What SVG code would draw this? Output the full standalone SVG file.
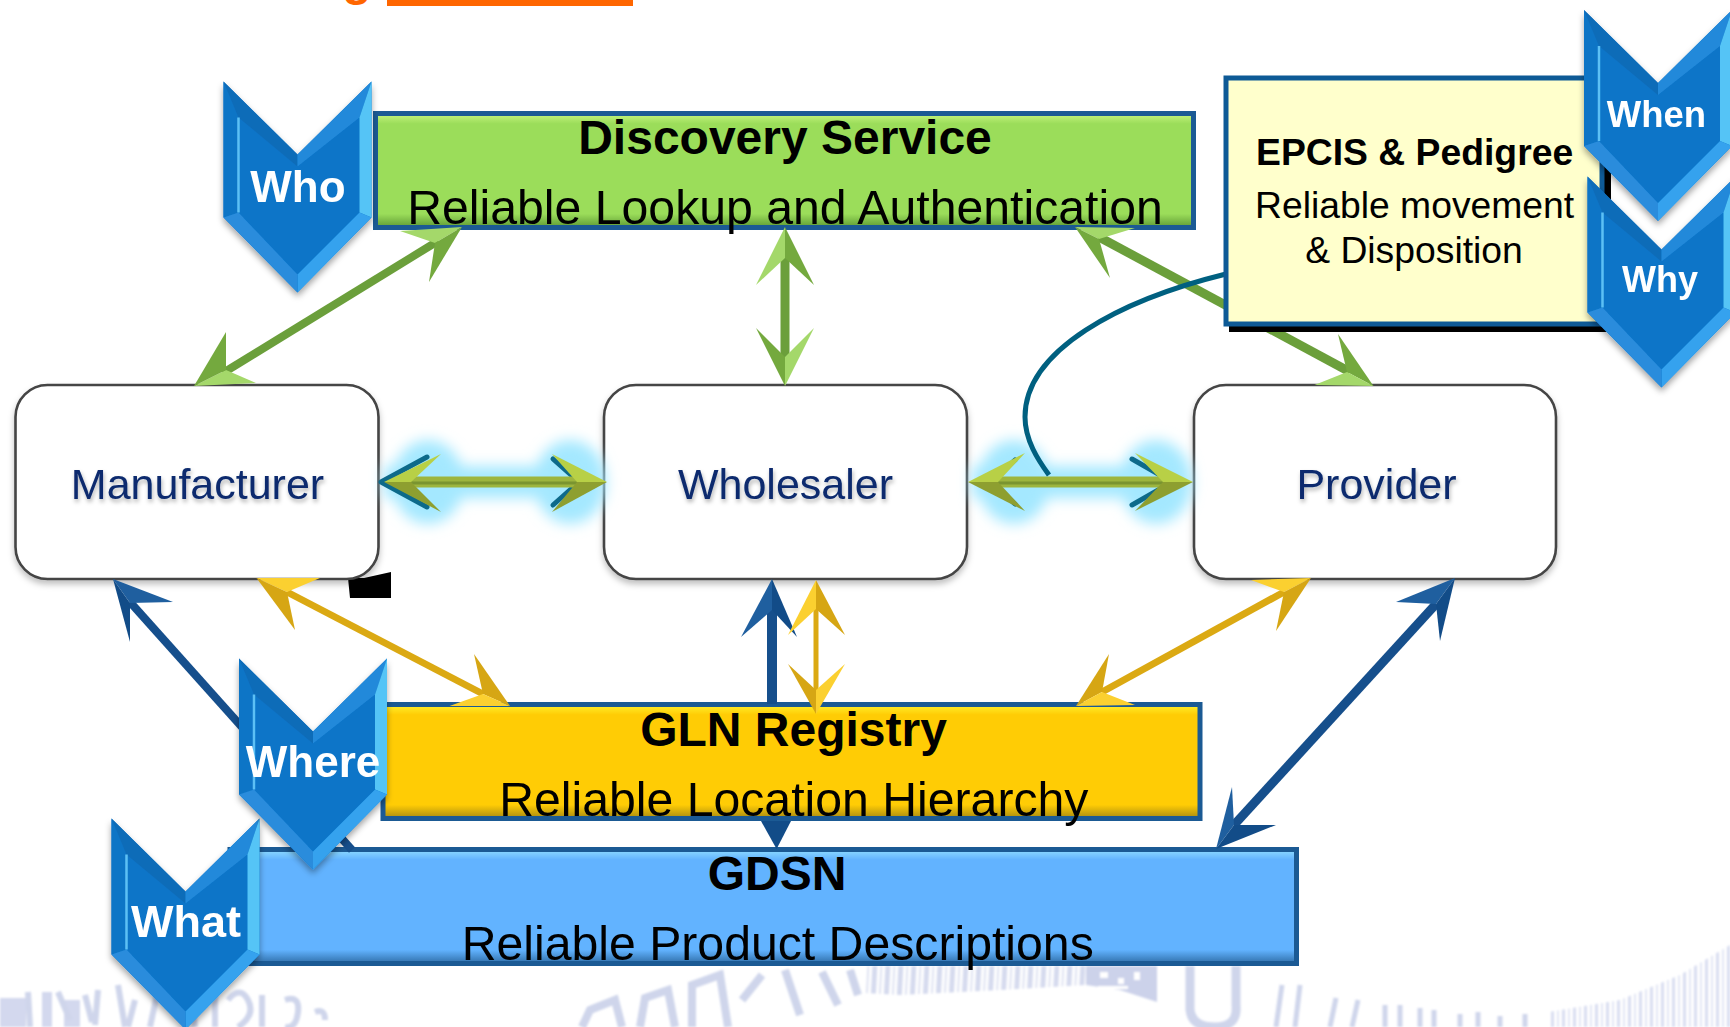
<svg xmlns="http://www.w3.org/2000/svg" xmlns:xlink="http://www.w3.org/1999/xlink" width="1730" height="1027" viewBox="0 0 1730 1027">
<style>
text{font-family:"Liberation Sans",Arial,sans-serif;text-anchor:middle}
.bt{font-weight:bold;font-size:48px;fill:#000}
.st{font-size:48.200px;fill:#000}
.ep{font-size:37.300px;fill:#000}
.nd{font-size:43px;fill:#0b2c6e;filter:url(#ts)}
.cv{font-weight:bold;fill:#fff;filter:url(#tg)}
.box{fill:#fff;stroke:#444;stroke-width:2.6;filter:url(#ds)}
.bar{stroke:#1b5a94;stroke-width:5}
.gl{fill:#a4d86a}.gd{fill:#74a93e}.gs{stroke:#6b9f3b;fill:none}
.yl{fill:#fbd030}.yd{fill:#d6a614}.ys{stroke:#dba913;fill:none}
.bl{fill:#1f5f9f}.bd{fill:#124c88}.bs{stroke:#164f8c;fill:none}
.ol{fill:#b8d046}.od{fill:#8e9f30}.os{stroke:#9db53e;fill:none}
.edge{fill:none;stroke:#0d6a8a;stroke-width:5;stroke-linecap:round}
.wm{fill:none;stroke:#cfd5eb}
</style>
<defs>
<filter id="ds" x="-10%" y="-10%" width="120%" height="120%"><feDropShadow dx="0" dy="4" stdDeviation="3" flood-color="#000" flood-opacity=".25"/></filter>
<filter id="ts" x="-5%" y="-20%" width="110%" height="150%"><feDropShadow dx="1" dy="3" stdDeviation="2" flood-color="#000" flood-opacity=".3"/></filter>
<filter id="tg" x="-10%" y="-10%" width="120%" height="120%"><feGaussianBlur stdDeviation=".5"/></filter>
<filter id="cs" x="-10%" y="-10%" width="125%" height="125%"><feDropShadow dx="0" dy="4" stdDeviation="3" flood-color="#000" flood-opacity=".35"/></filter>
<filter id="gw" x="-20%" y="-40%" width="140%" height="180%"><feGaussianBlur stdDeviation="7"/></filter>
<filter id="sb"><feGaussianBlur stdDeviation=".8"/></filter>
<linearGradient id="gG" x1="0" y1="0" x2="0" y2="1"><stop offset="0" stop-color="#c6f57e"/><stop offset=".09" stop-color="#9bdd5a"/><stop offset=".88" stop-color="#9bdd5a"/><stop offset="1" stop-color="#5e9a34"/></linearGradient>
<linearGradient id="gY" x1="0" y1="0" x2="0" y2="1"><stop offset="0" stop-color="#fff22e"/><stop offset=".09" stop-color="#ffcc05"/><stop offset=".88" stop-color="#ffcc05"/><stop offset="1" stop-color="#a88a10"/></linearGradient>
<linearGradient id="gB" x1="0" y1="0" x2="0" y2="1"><stop offset="0" stop-color="#8fdcff"/><stop offset=".09" stop-color="#62b3ff"/><stop offset=".88" stop-color="#62b3ff"/><stop offset="1" stop-color="#2f6ea8"/></linearGradient>
<pattern id="p1" width="11" height="20" patternUnits="userSpaceOnUse"><rect width="3" height="20" fill="#d8ddf0"/><rect x="6" width="2" height="20" fill="#e2e6f4"/></pattern>
<pattern id="p2" width="13" height="20" patternUnits="userSpaceOnUse" patternTransform="skewX(-3)"><rect width="5" height="20" fill="#d5daee"/><rect x="8" width="2" height="20" fill="#dfe3f2"/></pattern>
<g id="chev">
<path d="M0 0L74 73L148 0V136L74 211L0 136Z" fill="#0a74c8"/>
<path d="M0 0L15 36V131L0 136Z" fill="#0f74c6"/>
<path d="M0 0L74 73V85L15 36Z" fill="#0d6cb8"/>
<path d="M148 0L74 73V85L136 36Z" fill="#2389da"/>
<path d="M148 0L136 36V131L148 136Z" fill="#54c4f6"/>
<path d="M148 136L136 131L74 193V211Z" fill="#35a2ee"/>
<path d="M0 136L15 131L74 193V211Z" fill="#2a8cdc"/>
<path d="M15 36V131" stroke="#5cc0f5" stroke-width="2.5" fill="none"/>
</g>
</defs>
<rect width="1730" height="1027" fill="#fff"/>
<g id="watermark" filter="url(#sb)">
<path d="M1549 1027V1012L1620 1000L1680 975L1730 945V1027Z" fill="url(#p1)"/>
<path d="M865 966H1085V985L1000 990L900 995L865 993Z" fill="url(#p2)"/>
<path d="M1086 966H1157V1002L1120 990L1086 985Z" fill="#ccd2ea"/>
<path d="M1100 972h8v6h-8zM1118 978h6v6h-6zM1134 972h6v8h-6zM1098 986h30v3h-30z" fill="#fff"/>
<path class="wm" stroke-width="9" d="M1190 966V1010Q1192 1027 1215 1027T1236 1005V966"/>
<path class="wm" stroke-width="5" d="M1282 985L1276 1027M1300 985L1295 1027M1336 998L1330 1027M1358 1000L1352 1027M1385 1005V1027M1400 1005V1027M1420 1008V1027M1434 1010V1027M1460 1014V1027M1478 1012V1027M1500 1016V1027M1525 1014V1027"/>
<path class="wm" stroke-width="8" d="M582 1027L590 1010L615 1000L622 1027M640 1027L645 998L668 990L675 1027M692 1027V985L720 975L728 1027M742 1000L762 975M785 970L800 1015M822 972L838 1005M850 970L858 995"/>
<path d="M0 998H26V1027H0ZM42 992H52V1027H42ZM64 1000H80V1027H64Z" fill="#d3d8ee"/>
<path class="wm" stroke-width="6" d="M30 1027L28 992M58 992L70 1020M85 995L92 1022M98 990L95 1025M118 985L125 1027M135 1000L128 1027M150 1027L158 990M195 1027L190 985M215 1027V985M228 1000Q240 985 248 1000T238 1027M262 1027V995M285 1000Q300 995 298 1012T285 1027M315 1012Q325 1008 325 1020"/>
</g>
<g id="title-fragment">
<text x="357" y="-5" style="font-size:48px;font-weight:bold;fill:#ff6600">g</text>
<rect x="387" y="0" width="246" height="6" fill="#ff6600"/>
</g>
<path id="black-mark" d="M348 578H364L391 572V598H350Z" fill="#000"/>
<g id="discovery"><rect class="bar" x="375.500" y="113.500" width="818" height="114" fill="url(#gG)"/><text class="bt" x="785" y="154">Discovery Service</text><text class="st" x="785" y="224">Reliable Lookup and Authentication</text></g>
<g id="gdsn"><rect class="bar" x="230" y="849.500" width="1066.500" height="114" fill="url(#gB)"/><text class="bt" x="777" y="890">GDSN</text><text class="st" x="777.700" y="960">Reliable Product Descriptions</text></g>
<g id="gln"><rect class="bar" x="383" y="704.500" width="817" height="114" fill="url(#gY)"/><text class="bt" x="793.500" y="746">GLN Registry</text><text class="st" x="793.800" y="816">Reliable Location Hierarchy</text></g>
<g id="manufacturer"><rect class="box" x="15.500" y="385" width="363" height="194" rx="32"/><text class="nd" x="197.500" y="499">Manufacturer</text></g>
<g id="wholesaler"><rect class="box" x="604" y="385" width="363" height="194" rx="32"/><text class="nd" x="785.500" y="499">Wholesaler</text></g>
<g id="provider"><rect class="box" x="1194" y="385" width="362" height="194" rx="32"/><text class="nd" x="1376.500" y="499">Provider</text></g>
<g id="connectors">
<g fill="#a4e8ff" filter="url(#gw)">
<path d="M384 466H604V498H384Z"/><ellipse cx="428" cy="482" rx="36" ry="42"/><ellipse cx="570" cy="482" rx="36" ry="42"/>
<path d="M972 466H1190V498H972Z"/><ellipse cx="1014" cy="482" rx="36" ry="42"/><ellipse cx="1156" cy="482" rx="36" ry="42"/>
</g>
<path class="gs" stroke-width="8" d="M438 241L223 373"/>
<path class="gl" d="M462 227L400 231L435 243Z"/><path class="gd" d="M462 227L435 243L429 282Z"/>
<path class="gl" d="M194 386L256 383L226 370Z"/><path class="gd" d="M194 386L226 370L226 332Z"/>
<path class="gs" stroke-width="9" d="M785 258V357"/>
<path class="gl" d="M785 227L756 285L785 258Z"/><path class="gd" d="M785 227L785 258L814 285Z"/>
<path class="gd" d="M785 386L756 328L785 357Z"/><path class="gl" d="M785 386L785 357L814 328Z"/>
<path class="gs" stroke-width="9" d="M1099 237L1350 372"/>
<path class="gl" d="M1075 227L1135 228L1099 239Z"/><path class="gd" d="M1075 227L1099 239L1110 278Z"/>
<path class="gd" d="M1373.500 386L1338 334L1347 372Z"/><path class="gl" d="M1373.500 386L1347 372L1314.500 385Z"/>
<path class="bs" stroke-width="8" d="M130 602L352 850"/>
<path class="bl" d="M113 579L173 602L130 603Z"/><path class="bd" d="M113 579L130 603L130 642Z"/>
<path class="ys" stroke-width="7" d="M287 592L483 694"/>
<path class="yl" d="M256.500 578L320 578L287 592Z"/><path class="yd" d="M256.500 578L287 592L295 630Z"/>
<path class="yd" d="M510 706L474 654L483 694Z"/><path class="yl" d="M510 706L483 694L449.500 706Z"/>
<path class="bs" stroke-width="10" d="M772 610V704"/>
<path class="bl" d="M772 579L741 637L772 610Z"/><path class="bd" d="M772 579L772 610L797 637Z"/>
<path class="bd" d="M761 821H791L776.600 849Z"/>
<path class="ys" stroke-width="5" d="M816 609V690"/>
<path class="yl" d="M816 580L788 635L816 609Z"/><path class="yd" d="M816 580L816 609L845 635Z"/>
<path class="yd" d="M816 714L788 664L816 690Z"/><path class="yl" d="M816 714L816 690L845 664Z"/>
<path class="ys" stroke-width="7" d="M1284 592L1102 692"/>
<path class="yl" d="M1311 578L1251 580L1284 592Z"/><path class="yd" d="M1311 578L1284 592L1276 631Z"/>
<path class="yd" d="M1076 706L1109 654L1102 692Z"/><path class="yl" d="M1076 706L1102 692L1135 705Z"/>
<path class="bs" stroke-width="9" d="M1436 604L1234 825"/>
<path class="bl" d="M1455 578L1396 602L1436 604Z"/><path class="bd" d="M1455 578L1436 604L1440 641Z"/>
<path class="bl" d="M1216 849L1232 787L1234 825Z"/><path class="bd" d="M1216 849L1234 825L1276 825Z"/>
<path class="edge" d="M381 482L427 457M381 482L427 507"/>
<path class="edge" d="M553 459L571 475M553 505L571 489"/>
<path class="os" stroke-width="11" d="M411 482H577"/><path stroke="#7a9430" stroke-width="3" d="M411 483H577"/>
<path class="ol" d="M384 482L441 454L411 482Z"/><path class="od" d="M384 482L411 482L441 512Z"/>
<path class="ol" d="M607 482L552 454L577 482Z"/><path class="od" d="M607 482L577 482L552 512Z"/>
<path class="edge" d="M1132 459L1160 475M1132 505L1160 489" stroke-width="3"/>
<path class="edge" d="M1015 460L1000 474M1015 504L1000 490"/>
<path class="os" stroke-width="11" d="M998 482H1163"/><path stroke="#7a9430" stroke-width="3" d="M998 483H1163"/>
<path class="ol" d="M968 482L1025 453L998 482Z"/><path class="od" d="M968 482L998 482L1025 511Z"/>
<path class="ol" d="M1193 482L1135 453L1163 482Z"/><path class="od" d="M1193 482L1163 482L1135 511Z"/>
<path d="M1226 274C1120 300 1025 350 1025 417C1025 440 1038 460 1049 475" fill="none" stroke="#006080" stroke-width="5"/>
</g>
<g id="epcis">
<rect x="1229" y="90" width="382" height="242" fill="#000"/>
<rect x="1226" y="78" width="376" height="246" fill="#ffffcc" stroke="#0e5a96" stroke-width="5"/>
<text x="1414.600" y="165" style="font-weight:bold;font-size:37.300px">EPCIS &amp; Pedigree</text>
<text class="ep" x="1414.600" y="218">Reliable movement</text>
<text class="ep" x="1414" y="263">&amp; Disposition</text>
</g>
<g id="what" transform="translate(111.500 818.500)"><use xlink:href="#chev" href="#chev" filter="url(#cs)"/><text class="cv" x="74.500" y="118.500" style="font-size:45px">What</text></g>
<g id="where" transform="translate(239 658.500)"><use xlink:href="#chev" href="#chev" filter="url(#cs)"/><text class="cv" x="74" y="118.500" style="font-size:44px">Where</text></g>
<g id="who" transform="translate(223.500 81.500)"><use xlink:href="#chev" href="#chev" filter="url(#cs)"/><text class="cv" x="74.500" y="120.500" style="font-size:44px">Who</text></g>
<g id="when" transform="translate(1584 10)"><use xlink:href="#chev" href="#chev" filter="url(#cs)"/><text class="cv" x="72.500" y="116.500" style="font-size:36.500px">When</text></g>
<g id="why" transform="translate(1587.500 176.500)"><use xlink:href="#chev" href="#chev" filter="url(#cs)"/><text class="cv" x="72.500" y="115.500" style="font-size:36px">Why</text></g>
</svg>
